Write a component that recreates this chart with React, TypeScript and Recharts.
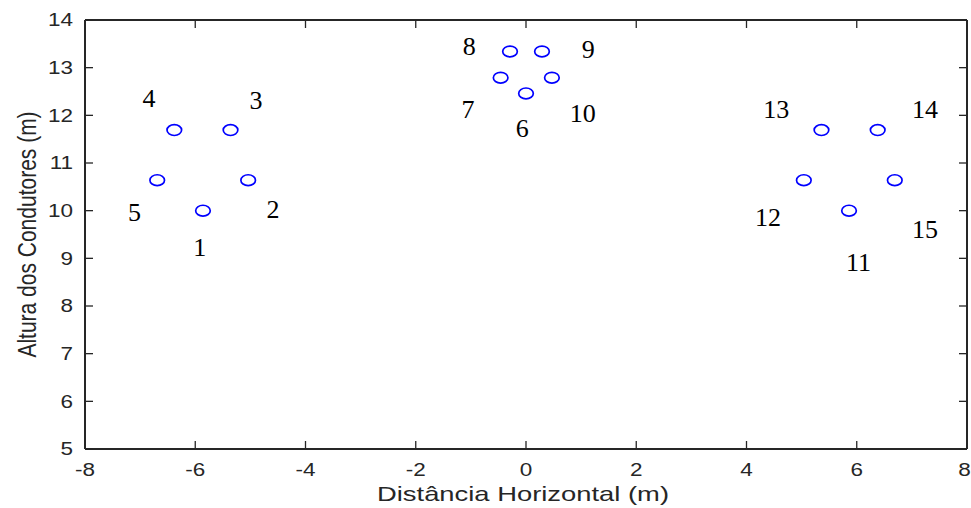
import React from "react";
import { ScatterChart, Scatter, XAxis, YAxis } from "recharts";

// Conductor positions (m): horizontal distance and height
const conductorIds = [1, 2, 3, 4, 5, 6, 7, 8, 9, 10, 11, 12, 13, 14, 15];
const conductorX = [-5.86, -5.04, -5.36, -6.38, -6.69, 0, -0.46, -0.29, 0.29, 0.47, 5.86, 5.04, 5.36, 6.38, 6.69];
const conductorY = [10, 10.64, 11.69, 11.69, 10.64, 12.46, 12.79, 13.34, 13.34, 12.79, 10, 10.64, 11.69, 11.69, 10.64];

// Where each conductor number is written (m)
const labelX = [-5.92, -4.59, -4.9, -6.84, -7.1, -0.07, -1.05, -1.03, 1.13, 1.03, 6.03, 4.39, 4.54, 7.24, 7.24];
const labelY = [9.24, 10.04, 12.31, 12.35, 9.96, 11.74, 12.12, 13.46, 13.38, 12.04, 8.91, 9.87, 12.12, 12.14, 9.62];

const xTicks = [-8, -6, -4, -2, 0, 2, 4, 6, 8];
const yTicks = [5, 6, 7, 8, 9, 10, 11, 12, 13, 14];

const xTitle = "Distância Horizontal (m)";
const yTitle = "Altura dos Condutores (m)";

const conductors = conductorIds.map((id, i) => ({ id, x: conductorX[i], y: conductorY[i] }));
const labels = conductorIds.map((id, i) => ({ id, x: labelX[i], y: labelY[i] }));

const CHART_W = 971;
const CHART_H = 508;
const AXIS_COLOR = "#262626";
const SANS = "'Liberation Sans', Arial, sans-serif";
const STRETCH = 1.25;

const Ring = (props: any) => {
  const { cx, cy } = props;
  return <ellipse cx={cx} cy={cy} rx={7.3} ry={5.4} fill="none" stroke="#0000ff" strokeWidth={1.7} />;
};

const NumberLabel = (props: any) => {
  const { cx, cy, payload } = props;
  return (
    <text
      x={cx}
      y={cy}
      dy="0.34em"
      textAnchor="middle"
      fontFamily="'Liberation Serif', 'Times New Roman', serif"
      fontSize={26}
      fill="#000"
    >
      {payload.id}
    </text>
  );
};

const XTick = (props: any) => {
  const { x, y, payload } = props;
  // keep the last label inside the drawing area
  const half = 6.5;
  const px = Math.min(x, CHART_W - half);
  return (
    <text
      x={0}
      y={0}
      textAnchor="middle"
      fontFamily={SANS}
      fontSize={18}
      fill={AXIS_COLOR}
      transform={`translate(${px} ${y}) scale(${STRETCH} 1)`}
    >
      {payload.value}
    </text>
  );
};

const YTick = (props: any) => {
  const { x, y, payload } = props;
  return (
    <text
      x={0}
      y={0}
      dy="0.36em"
      textAnchor="end"
      fontFamily={SANS}
      fontSize={18}
      fill={AXIS_COLOR}
      transform={`translate(${x} ${y}) scale(${STRETCH} 1)`}
    >
      {payload.value}
    </text>
  );
};

const XTitle = (props: any) => {
  const { viewBox } = props;
  const cx = viewBox.x + viewBox.width / 2;
  return (
    <text
      x={cx - 3}
      y={501}
      textAnchor="middle"
      fontFamily={SANS}
      fontSize={21}
      fill={AXIS_COLOR}
      textLength={292}
      lengthAdjust="spacingAndGlyphs"
    >
      {xTitle}
    </text>
  );
};

const YTitle = (props: any) => {
  const { viewBox } = props;
  const cy = viewBox.y + viewBox.height / 2;
  const baseX = 36;
  return (
    <text
      x={0}
      y={0}
      textAnchor="middle"
      fontFamily={SANS}
      fontSize={21}
      fill={AXIS_COLOR}
      transform={`translate(${baseX} ${cy}) scale(${STRETCH} 1) rotate(-90)`}
    >
      {yTitle}
    </text>
  );
};

const NoTick = () => <g />;

export default function App() {
  return (
    <div style={{ position: "absolute", left: 0, top: 0, background: "#fff" }}>
      <ScatterChart width={CHART_W} height={CHART_H} margin={{ top: 0, right: 0, bottom: 0, left: 0 }}>
        <XAxis
          xAxisId="b"
          type="number"
          dataKey="x"
          domain={[-8, 8]}
          ticks={xTicks}
          orientation="bottom"
          height={59}
          tickSize={-8}
          tickMargin={35}
          axisLine={{ stroke: AXIS_COLOR, strokeWidth: 2 }}
          tickLine={{ stroke: AXIS_COLOR, strokeWidth: 1.3 }}
          tick={XTick}
          allowDataOverflow
          label={<XTitle />}
        />
        <XAxis
          xAxisId="t"
          type="number"
          dataKey="x"
          domain={[-8, 8]}
          ticks={xTicks}
          orientation="top"
          height={20}
          tickSize={-8}
          axisLine={{ stroke: AXIS_COLOR, strokeWidth: 2 }}
          tickLine={{ stroke: AXIS_COLOR, strokeWidth: 1.3 }}
          tick={NoTick}
          allowDataOverflow
        />
        <YAxis
          yAxisId="l"
          type="number"
          dataKey="y"
          domain={[5, 14]}
          ticks={yTicks}
          orientation="left"
          width={85}
          tickSize={-8}
          tickMargin={20}
          axisLine={{ stroke: AXIS_COLOR, strokeWidth: 2 }}
          tickLine={{ stroke: AXIS_COLOR, strokeWidth: 1.3 }}
          tick={YTick}
          allowDataOverflow
          label={<YTitle />}
        />
        <YAxis
          yAxisId="r"
          type="number"
          dataKey="y"
          domain={[5, 14]}
          ticks={yTicks}
          orientation="right"
          width={4}
          tickSize={-8}
          axisLine={{ stroke: AXIS_COLOR, strokeWidth: 2 }}
          tickLine={{ stroke: AXIS_COLOR, strokeWidth: 1.3 }}
          tick={NoTick}
          allowDataOverflow
        />
        <Scatter xAxisId="b" yAxisId="l" data={conductors} shape={Ring} isAnimationActive={false} />
        <Scatter xAxisId="b" yAxisId="l" data={labels} shape={NumberLabel} isAnimationActive={false} />
        <Scatter xAxisId="t" yAxisId="r" data={conductors} shape={NoTick} isAnimationActive={false} />
      </ScatterChart>
    </div>
  );
}
